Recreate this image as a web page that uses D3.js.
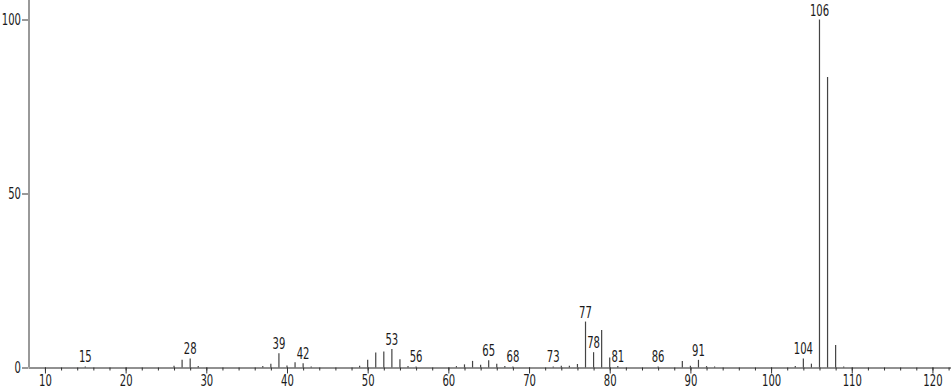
<!DOCTYPE html>
<html lang="en">
<head>
<meta charset="UTF-8">
<title>Mass spectrum</title>
<script src="https://d3js.org/d3.v7.min.js"></script>
<style>
    body { margin: 0; background: #fff; }
    svg text { font-family: "DejaVu Sans Condensed", "DejaVu Sans", sans-serif; font-size: 15px; fill: #1a1a1a; }
    .peak { stroke: #444; stroke-width: 1.2px; }
</style>
</head>
<body>
<svg id="chart"></svg>
<script>
    const width = 951, height = 389;

    // m/z and relative intensity (%)
    const mz = [15, 26, 27, 28, 29, 37, 38, 39, 40, 41, 42, 43, 49, 50, 51, 52, 53, 54, 55, 56,
        61, 62, 63, 64, 65, 66, 67, 68, 73, 74, 75, 76, 77, 78, 79, 80, 81, 86, 89, 90,
        91, 92, 93, 103, 104, 105, 106, 107, 108, 109];
    const intensity = [0.3, 0.5, 2.2, 2.6, 0.4, 0.4, 1.1, 4.1, 0.6, 1.5, 1.2, 0.3, 0.5, 2.2, 4.3, 4.6, 5.3, 2.4, 0.4, 0.3,
        0.4, 0.9, 1.9, 0.8, 2.1, 1.1, 0.4, 0.3, 0.3, 0.5, 0.5, 1.0, 13.2, 4.4, 10.8, 2.9, 0.4, 0.3, 1.9, 0.5,
        2.2, 0.4, 0.3, 0.4, 2.6, 1.1, 100, 83.5, 6.5, 0.3];
    const labelled = [15, 28, 39, 42, 53, 56, 65, 68, 73, 77, 78, 81, 86, 91, 104, 106];
    const xTicks = d3.range(10, 121, 10);
    const xMinorTicks = d3.range(10, 123, 2);
    const yTicks = [0, 50, 100];

    const peaks = mz.map((m, i) => ({ mz: m, value: intensity[i] }));

    const x = d3.scaleLinear().domain([7.9, 122.3]).range([28, 951]);
    const y = d3.scaleLinear().domain([0, 100]).range([367.5, 19.5]);

    // the original face has narrow digits, squeeze ours to match
    const narrow = sel => sel
        .attr("textLength", function () { return this.textContent.length * 6.4; })
        .attr("lengthAdjust", "spacingAndGlyphs");

    const svg = d3.select("#chart").attr("width", width).attr("height", height);

    // minor ticks
    svg.append("g")
        .attr("transform", `translate(0,${y(0)})`)
        .call(d3.axisBottom(x).tickValues(xMinorTicks).tickSize(3).tickFormat(""))
        .call(g => g.select(".domain").remove())
        .call(g => g.selectAll("line").attr("stroke", "#333"));

    // x axis
    svg.append("g")
        .attr("transform", `translate(0,${y(0)})`)
        .call(d3.axisBottom(x).tickValues(xTicks).tickSize(6).tickSizeOuter(0).tickPadding(2))
        .call(g => g.select(".domain").attr("stroke", "#222"))
        .call(g => g.selectAll("line").attr("stroke", "#333"))
        .call(g => g.selectAll("text").attr("font-size", null).call(narrow));

    // y axis
    svg.append("g")
        .attr("transform", `translate(${x(7.9)},0)`)
        .call(d3.axisLeft(y).tickValues(yTicks).tickSize(6).tickPadding(1))
        .call(g => g.select(".domain").remove())
        .call(g => g.selectAll("line").attr("stroke", "#333"))
        .call(g => g.selectAll("text").attr("font-size", null).call(narrow));

    svg.append("line")
        .attr("x1", x(7.9) + 1).attr("x2", x(7.9) + 1)
        .attr("y1", 0).attr("y2", y(0))
        .attr("stroke", "#999").attr("stroke-width", 2);

    // peaks
    svg.append("g").selectAll("line")
        .data(peaks)
        .join("line")
        .attr("class", "peak")
        .attr("x1", d => x(d.mz)).attr("x2", d => x(d.mz))
        .attr("y1", y(0)).attr("y2", d => y(d.value));

    // peak labels
    svg.append("g").selectAll("text")
        .data(peaks.filter(d => labelled.includes(d.mz)))
        .join("text")
        .attr("x", d => x(d.mz))
        .attr("y", d => y(d.value) - 4)
        .attr("text-anchor", "middle")
        .text(d => d.mz)
        .call(narrow);
</script>
</body>
</html>
